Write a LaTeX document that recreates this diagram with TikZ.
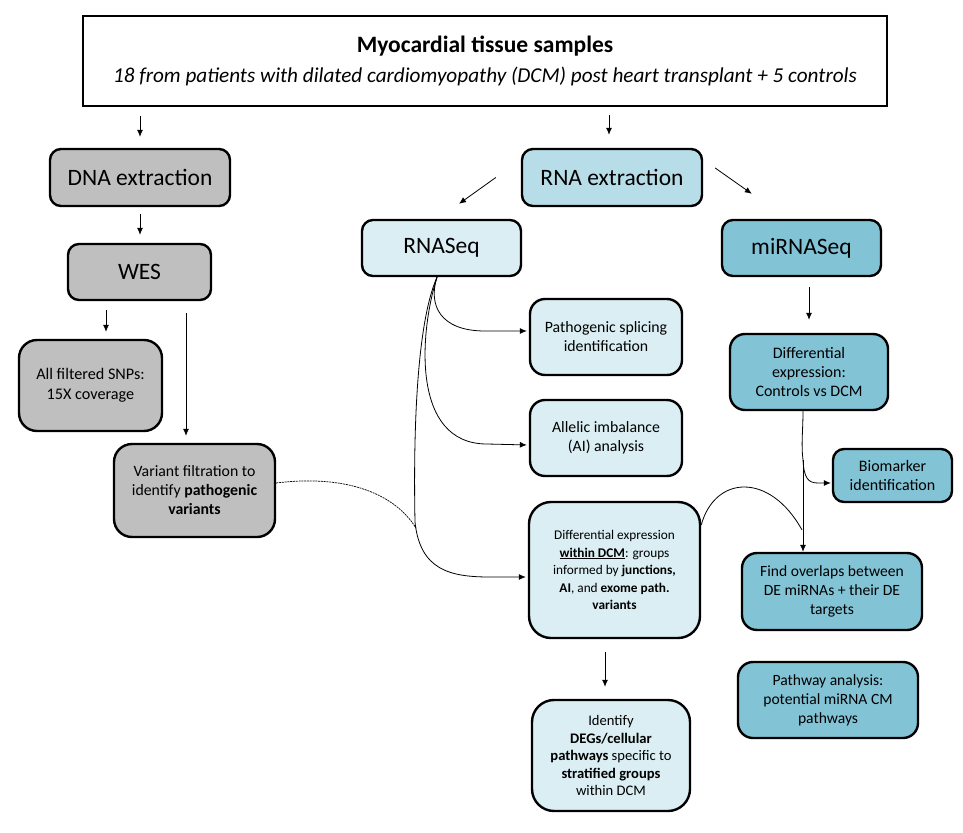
\documentclass[tikz,border=0pt]{standalone}
\usepackage{fontspec}
\setmainfont{Carlito}
\usepackage{tikz}
\usetikzlibrary{arrows.meta,calc}
\definecolor{dnagray}{HTML}{BFBFBF}
\definecolor{rnapale}{HTML}{DAEEF3}
\definecolor{rnamid}{HTML}{B7DEE8}
\definecolor{mirteal}{HTML}{82C4D6}
\tikzstyle{stepbox} = [draw=black, line width=2.4pt, rectangle,
    rounded corners=11pt, align=center, inner sep=2pt]
\tikzstyle{bigbox} = [stepbox, font=\fontsize{23.5}{27}\selectfont]
\tikzstyle{smallbox} = [stepbox, font=\fontsize{15.8}{19}\selectfont]
\tikzstyle{tinybox} = [stepbox, rounded corners=22pt, font=\fontsize{13.3}{17.5}\selectfont]
\tikzstyle{arr} = [-{Latex[length=7pt,width=6pt]}, line width=0.8pt]

\begin{document}
\begin{tikzpicture}[x=1pt,y=-1pt]
                \useasboundingbox (0,0) rectangle (963,832);
                % samples
                \node [draw=black, line width=2.6pt, minimum width=804pt, minimum height=90pt,
                    align=center] (top) at (485,61) {%
                    {\fontsize{23.5}{33}\selectfont\textbf{Myocardial tissue samples}}\\[9pt]
                    {\fontsize{21.2}{24}\selectfont\textit{18 from patients with dilated cardiomyopathy (DCM) post heart transplant + 5 controls}}};
                % DNA branch
                \node [bigbox, fill=dnagray, minimum width=180pt, minimum height=57pt] (dna) at (140,177.5) {DNA extraction};
                \node [bigbox, fill=dnagray, minimum width=143pt, minimum height=56pt] (wes) at (139.5,272) {WES};
                \node [smallbox, fill=dnagray, minimum width=143pt, minimum height=91pt, rounded corners=18pt, font=\fontsize{16.2}{19.5}\selectfont] (snp) at (90.5,385.5) {All filtered SNPs:\\15X coverage};
                \node [smallbox, fill=dnagray, minimum width=161pt, minimum height=93pt, rounded corners=18pt] (var) at (194.5,490.5) {Variant filtration to\\identify \textbf{pathogenic}\\\textbf{variants}};
                % RNA branch
                \node [bigbox, fill=rnamid, minimum width=180pt, minimum height=57pt] (rna) at (612,177.5) {RNA extraction};
                \node [bigbox, fill=rnapale, minimum width=159pt, minimum height=56pt] (rnaseq) at (441.5,248) {RNASeq};
                \node [bigbox, fill=mirteal, minimum width=159pt, minimum height=56pt] (mirna) at (801.5,248) {miRNASeq};
                \node [smallbox, fill=rnapale, minimum width=152pt, minimum height=76pt, rounded corners=15pt] (splice) at (606,337) {Pathogenic splicing\\identification};
                \node [smallbox, fill=rnapale, minimum width=152pt, minimum height=76pt, rounded corners=15pt] (ai) at (606,438) {Allelic imbalance\\(AI) analysis};
                \node [tinybox, fill=rnapale, minimum width=171pt, minimum height=136pt] (dein) at (614.5,570) {Differential expression\\\underline{\textbf{within DCM}}: groups\\informed by \textbf{junctions,}\\\textbf{AI}, and \textbf{exome path.}\\\textbf{variants}};
                \node [tinybox, fill=rnapale, minimum width=158pt, minimum height=111pt, font=\fontsize{14.6}{17.5}\selectfont] (ident) at (611,755.5) {Identify\\\textbf{DEGs/cellular}\\\textbf{pathways} specific to\\\textbf{stratified groups}\\within DCM};
                % miRNA branch
                \node [smallbox, fill=mirteal, minimum width=158pt, minimum height=76pt, rounded corners=15pt, font=\fontsize{16}{19}\selectfont] (demi) at (809,372) {Differential\\expression:\\Controls vs DCM};
                \node [smallbox, fill=mirteal, minimum width=119pt, minimum height=53pt, font=\fontsize{16}{19}\selectfont] (bio) at (892.5,475.5) {Biomarker\\identification};
                \node [smallbox, fill=mirteal, minimum width=180pt, minimum height=77pt, rounded corners=15pt, font=\fontsize{15.6}{19}\selectfont] (overlap) at (832,591.5) {Find overlaps between\\DE miRNAs + their DE\\targets};
                \node [smallbox, fill=mirteal, minimum width=180pt, minimum height=76pt, rounded corners=15pt, font=\fontsize{15.6}{19}\selectfont] (pathway) at (828,700) {Pathway analysis:\\potential miRNA CM\\pathways};
                % straight arrows
                \draw [arr, shorten <=9pt, shorten >=11pt] (top.south -| dna.north) -- (dna.north);
                \draw [arr, shorten <=8pt, shorten >=13pt] ([xshift=-3pt]top.south -| rna.north) -- ([xshift=-3pt]rna.north);
                \draw [arr, shorten <=7pt, shorten >=8pt] (dna.south) -- (dna.south |- wes.north);
                \draw [arr, shorten <=9pt, shorten >=7pt] ([xshift=15.5pt]wes.south -| snp.north) -- ([xshift=15.5pt]snp.north);
                \draw [arr, shorten <=12pt, shorten >=7pt] ([xshift=-8.5pt]wes.south -| var.north) -- ([xshift=-8.5pt]var.north);
                \draw [arr] ([xshift=-25pt]rna.west) -- ([xshift=17.5pt,yshift=15pt]rnaseq.north);
                \draw [arr] ([xshift=12pt,yshift=9.5pt]rna.east) -- ([xshift=31pt,yshift=25pt]mirna.north west);
                \draw [arr, shorten <=10pt, shorten >=13pt] (demi.north |- mirna.south) -- (demi.north);
                \draw [arr, shorten <=13pt, shorten >=12pt] ([xshift=-9.5pt]dein.south) -- ([xshift=-6pt]ident.north);
                % curved arrows from RNASeq
                \coordinate (fork) at ([xshift=-4.5pt]rnaseq.south);
                \draw [arr, shorten >=2pt] (fork) .. controls (428,305) and (440,331) .. (485,331) -- ([yshift=6pt]splice.west);
                \draw [arr, shorten >=2pt] (fork) .. controls (420,330) and (410,444) .. (487,444) -- ([yshift=-7pt]ai.west);
                \draw [arr, shorten >=2pt] (fork) .. controls (418,320) and (413,420) .. (415,522)
                    .. controls (420,570) and (450,577) .. (490,577) -- ([yshift=-7pt]dein.west);
                \draw [dashed, dash pattern=on 2pt off 0.8pt, line width=0.7pt] ([yshift=7.5pt]var.east) .. controls (340,475) and (392,490) .. (416,528);
                % miRNA side
                \coordinate (split) at (803,460);
                \draw [line width=0.8pt] ([xshift=-6pt]demi.south) .. controls (803,430) and (801,445) .. (split);
                \draw [arr] (split) -- ([xshift=-29pt]overlap.north);
                \draw [arr, shorten >=1pt] (split) .. controls (804,478) and (808,483) .. (818,483) -- ([yshift=-7.5pt]bio.west);
                \draw [line width=0.8pt] ([yshift=45pt]dein.east) .. controls (715,475) and (770,472) .. (802,530);
            \end{tikzpicture}
\end{document}
